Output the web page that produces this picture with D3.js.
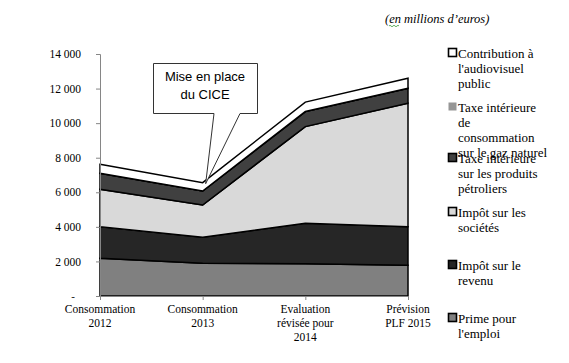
<!DOCTYPE html>
<html>
<head>
    <meta charset="utf-8">
    <script src="https://cdnjs.cloudflare.com/ajax/libs/d3/7.8.5/d3.min.js"></script>
    <style>
        body { margin: 0; background: #fff; }
        svg text { font-family: "Liberation Serif", serif; fill: #000; }
    </style>
</head>
<body>
    <svg id="chart" width="569" height="363"></svg>
    <script>
        // categories (x axis, one per line of label)
        var categories = [
            ["Consommation", "2012"],
            ["Consommation", "2013"],
            ["Evaluation", "révisée pour", "2014"],
            ["Prévision", "PLF 2015"]
        ];

        // series, bottom to top, millions d'euros
        var primeEmploi = [2180, 1890, 1870, 1775];
        var impotRevenu = [1830, 1505, 2340, 2235];
        var impotSocietes = [2165, 1870, 5590, 7140];
        var tipp = [925, 810, 870, 865];
        var gazNaturel = [0, 0, 0, 0];
        var audiovisuel = [520, 480, 545, 580];

        var seriesNames = [
            ["Prime pour", "l'emploi"],
            ["Impôt sur le", "revenu"],
            ["Impôt sur les", "sociétés"],
            ["Taxe intérieure", "sur les produits", "pétroliers"],
            ["Taxe intérieure", "de", "consommation", "sur le gaz naturel"],
            ["Contribution à", "l'audiovisuel", "public"]
        ];
        var seriesColors = ["#808080", "#262626", "#d9d9d9", "#404040", "#969696", "#ffffff"];

        var yTicks = [0, 2000, 4000, 6000, 8000, 10000, 12000, 14000];

        var svg = d3.select("#chart");

        var x = d3.scalePoint().domain(d3.range(categories.length)).range([100, 408]);
        var y = d3.scaleLinear().domain([0, 14000]).range([296, 54]);

        var allSeries = [primeEmploi, impotRevenu, impotSocietes, tipp, gazNaturel, audiovisuel];
        var rows = categories.map(function(c, i) {
            var r = { i: i };
            allSeries.forEach(function(s, k) { r["s" + k] = s[i]; });
            return r;
        });
        var stack = d3.stack().keys(allSeries.map(function(s, k) { return "s" + k; }));
        var layers = stack(rows);

        var area = d3.area()
            .x(function(d) { return x(d.data.i); })
            .y0(function(d) { return y(d[0]); })
            .y1(function(d) { return y(d[1]); });

        svg.selectAll("path.layer")
            .data(layers)
            .enter()
            .append("path")
            .attr("class", "layer")
            .attr("d", area)
            .style("fill", function(d, k) { return seriesColors[k]; })
            .style("stroke", "#000")
            .style("stroke-width", 1.5)
            .style("stroke-linejoin", "miter");

        // axes
        var yAxis = d3.axisLeft(y).tickValues(yTicks).tickSize(4)
            .tickFormat(function(v) { return v === 0 ? "" : d3.format(",")(v).replace(",", " "); });
        var gy = svg.append("g").attr("transform", "translate(100,0)").call(yAxis);
        gy.select(".domain").attr("stroke", "#868686");
        gy.selectAll(".tick line").attr("stroke", "#868686");
        gy.selectAll(".tick text")
            .attr("x", -19)
            .style("font-family", "Liberation Serif, serif")
            .style("font-size", "11.5px");
        svg.append("text").attr("x", 73).attr("y", 300)
            .attr("text-anchor", "middle").style("font-size", "11px").text("-");

        var xAxis = d3.axisBottom(x).tickSize(4).tickFormat("");
        var gx = svg.append("g").attr("transform", "translate(0,296)").call(xAxis);
        gx.select(".domain").attr("stroke", "#868686");
        gx.selectAll(".tick line").attr("stroke", "#868686");

        categories.forEach(function(lines, i) {
            var t = svg.append("text")
                .attr("text-anchor", "middle")
                .style("font-size", "11.5px");
            lines.forEach(function(l, j) {
                t.append("tspan").attr("x", x(i)).attr("y", 313 + j * 14).text(l);
            });
        });

        // unit label
        var unit = svg.append("text").attr("x", 385).attr("y", 23)
            .style("font-style", "italic").style("font-size", "12.5px");
        unit.text("(en millions d\u2019euros)");
        svg.append("path")
            .attr("d", "M389,26 q1,-1.5 2,0 t2,0 t2,0 t2,0 t2,0")
            .style("fill", "none").style("stroke", "#3a9a3a").style("stroke-width", 0.8);

        // legend (top entry is last series)
        var legendY = [53, 107, 158, 212, 265, 318];
        var legend = svg.append("g");
        seriesNames.slice().reverse().forEach(function(lines, j) {
            var k = seriesNames.length - 1 - j;
            var cy = legendY[j];
            legend.append("rect")
                .attr("x", 448.5).attr("y", cy - 4.5)
                .attr("width", 8).attr("height", 8)
                .style("fill", seriesColors[k])
                .style("stroke", k === 4 ? "none" : "#000")
                .style("stroke-width", 1.6);
            var t = legend.append("text").style("font-size", "13px");
            lines.forEach(function(l, m) {
                t.append("tspan").attr("x", 458).attr("y", cy + 4.5 + m * 15).text(l);
            });
        });

        // callout
        var callout = svg.append("g");
        callout.append("path")
            .attr("d", "M153.5,63.5 H257.5 V113.5 H240 L" + (x(1) + 3) + "," + (y(6554) + 1) + " L214,113.5 H153.5 Z")
            .style("fill", "#fff").style("stroke", "#333").style("stroke-width", 1);
        callout.append("text").attr("x", 205).attr("y", 81)
            .attr("text-anchor", "middle")
            .style("font-family", "Liberation Sans, sans-serif").style("font-size", "13px")
            .text("Mise en place");
        callout.append("text").attr("x", 205).attr("y", 99)
            .attr("text-anchor", "middle")
            .style("font-family", "Liberation Sans, sans-serif").style("font-size", "13px")
            .text("du CICE");
    </script>
</body>
</html>
